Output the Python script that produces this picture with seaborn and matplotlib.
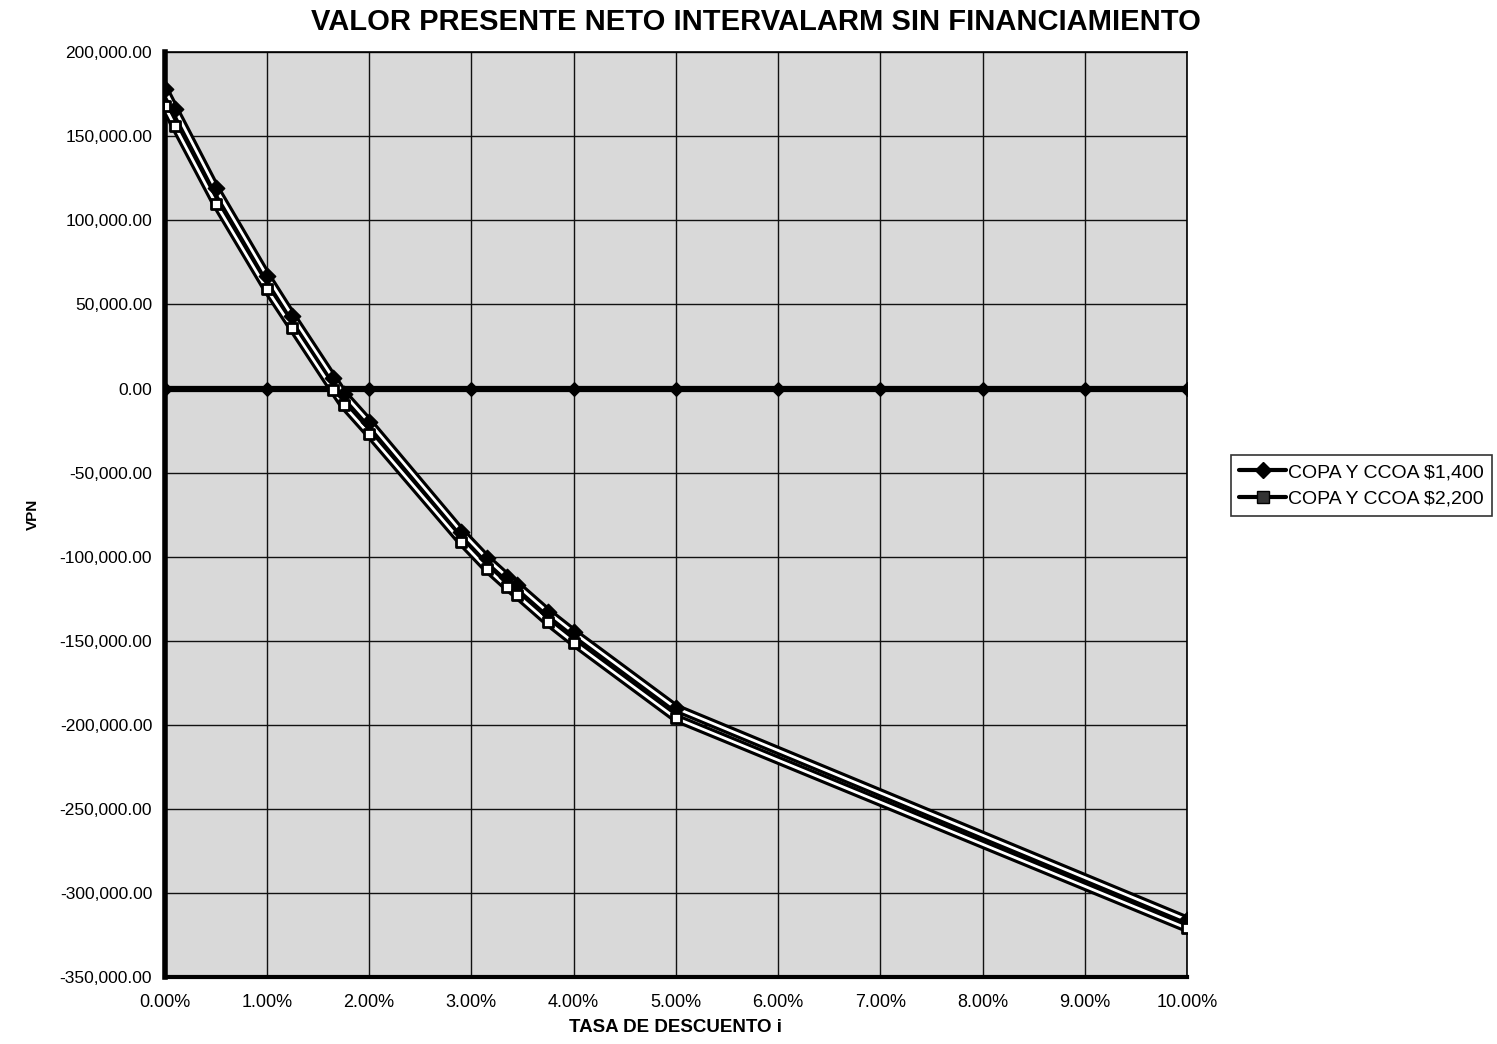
import numpy as np
import pandas as pd
import matplotlib
matplotlib.use("Agg")
import matplotlib.pyplot as plt
from matplotlib.ticker import FuncFormatter, MultipleLocator
from matplotlib.lines import Line2D
import seaborn as sns

# Discount rate (%) and net present value for each operating-cost scenario
tasa = [0.0, 0.1, 0.5, 1.0, 1.25, 1.65, 1.75, 2.0, 2.9, 3.15, 3.35, 3.45, 3.75, 4.0, 5.0, 10.0]
vpn_1400 = [178000, 166000, 119000, 67000, 43000, 6000, -3000, -20000, -85000,
            -101000, -112000, -117000, -133000, -145000, -190000, -316000]
vpn_2200 = [168000, 156000, 110000, 59000, 36000, -1000, -10000, -27000, -91000,
            -107000, -118000, -123000, -139000, -151000, -196000, -321000]
serie_1400 = "COPA Y CCOA $1,400"
serie_2200 = "COPA Y CCOA $2,200"
cero_x = [0, 1, 2, 3, 4, 5, 6, 7, 8, 9, 10]
cero_y = [0] * len(cero_x)

titulo = "VALOR PRESENTE NETO INTERVALARM SIN FINANCIAMIENTO"

sns.set_style("white")
plt.rcParams["font.family"] = ["Liberation Sans", "DejaVu Sans"]
plt.rcParams.update({
    "text.color": "black",
    "axes.labelcolor": "black",
    "xtick.color": "black",
    "ytick.color": "black",
})

df = pd.DataFrame({
    "tasa": tasa * 2,
    "vpn": vpn_1400 + vpn_2200,
    "serie": [serie_1400] * len(tasa) + [serie_2200] * len(tasa),
})

fig = plt.figure(figsize=(14.97, 10.44), dpi=100)
ax = fig.add_axes([0.110, 0.064, 0.683, 0.886])
ax.set_facecolor("#d9d9d9")

ax.set_xlim(0, 10)
ax.set_ylim(-350000, 200000)
ax.xaxis.set_major_locator(MultipleLocator(1))
ax.yaxis.set_major_locator(MultipleLocator(50000))
ax.grid(True, color="#111111", linewidth=1.0, zorder=0)
ax.set_axisbelow(True)

# horizontal zero reference
sns.lineplot(x=cero_x, y=cero_y, ax=ax, color="black", linewidth=4.5,
             marker="D", markersize=7, markeredgecolor="black", zorder=3)

# each series: thick black stroke with a thin white core
for nombre in [serie_2200, serie_1400]:
    sub = df[df["serie"] == nombre]
    sns.lineplot(data=sub, x="tasa", y="vpn", ax=ax, color="black",
                 linewidth=6.5, zorder=4, solid_capstyle="round")
for nombre in [serie_2200, serie_1400]:
    sub = df[df["serie"] == nombre]
    sns.lineplot(data=sub, x="tasa", y="vpn", ax=ax, color="white",
                 linewidth=2.0, zorder=5)

sub1 = df[df["serie"] == serie_1400]
sub2 = df[df["serie"] == serie_2200]
sns.scatterplot(data=sub1, x="tasa", y="vpn", ax=ax, marker="D", s=70,
                color="black", edgecolor="black", linewidth=1, zorder=6)
sns.scatterplot(data=sub2, x="tasa", y="vpn", ax=ax, marker="s", s=55,
                color="white", edgecolor="black", linewidth=2, zorder=7)

for side in ["top", "right"]:
    ax.spines[side].set_linewidth(1.2)
    ax.spines[side].set_color("black")
ax.spines["left"].set_linewidth(4)
ax.spines["left"].set_color("black")
ax.spines["bottom"].set_linewidth(3)
ax.spines["bottom"].set_color("black")

ax.yaxis.set_major_formatter(FuncFormatter(lambda v, p: f"{v:,.2f}"))
ax.xaxis.set_major_formatter(FuncFormatter(lambda v, p: f"{v:.2f}%"))
ax.tick_params(axis="y", which="major", direction="out", length=5,
               width=2, color="black", labelsize=12.5, pad=4)
ax.tick_params(axis="x", length=0, pad=12, labelsize=13)

ax.set_xlabel("TASA DE DESCUENTO i", fontsize=13.5, fontweight="bold", labelpad=6)
ax.set_ylabel("VPN", fontsize=11, fontweight="bold", labelpad=14)
fig.text(0.505, 0.979, titulo, ha="center", va="center",
         fontsize=21, fontweight="bold", color="black")

handles = [
    Line2D([0], [0], color="black", linewidth=3, marker="D", markersize=8,
           markerfacecolor="black", markeredgecolor="black"),
    Line2D([0], [0], color="black", linewidth=3, marker="s", markersize=9,
           markerfacecolor="#333333", markeredgecolor="black"),
]
leg = fig.legend(handles, [serie_1400, serie_2200], loc="center left",
                 bbox_to_anchor=(0.822, 0.535), fontsize=14, frameon=True,
                 fancybox=False, edgecolor="black", handlelength=2.4,
                 handletextpad=0.1, borderpad=0.45, labelspacing=0.45,
                 borderaxespad=0.0)
leg.get_frame().set_linewidth(1.2)

fig.savefig("out.png", dpi=100, facecolor="white")
